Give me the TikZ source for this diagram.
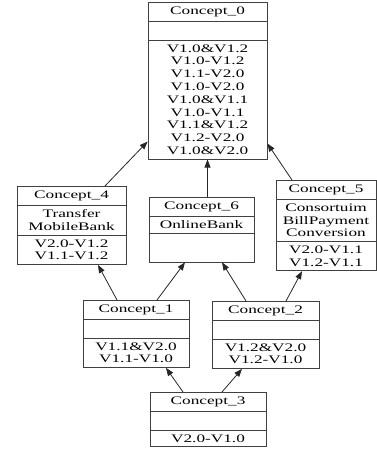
\documentclass[tikz,border=0pt]{standalone}
\usepackage{fontspec}
\setmainfont[FakeStretch=1.5]{Liberation Serif}
\usetikzlibrary{arrows.meta,shapes.multipart}

\begin{document}
\begin{tikzpicture}[
  x=1pt, y=-1pt,
  concept/.style={draw=black!75, line width=0.8pt, rectangle split, rectangle split parts=3,
    rectangle split empty part height=10pt, rectangle split empty part depth=0pt,
    font=\fontsize{11.5}{12.8}\selectfont, align=center, anchor=north,
    inner xsep=3pt, inner ysep=4pt},
  isa/.style={-{Triangle[length=8pt,width=6pt]}, line width=0.8pt, draw=black!85}
]
  \useasboundingbox (0,0) rectangle (376,454);

  % top concept
  \node[concept, minimum width=119pt] (c0) at (207.5,2) {Concept\_0
    \nodepart{two}
    \nodepart{three} V1.0\&V1.2\\V1.0-V1.2\\V1.1-V2.0\\V1.0-V2.0\\V1.0\&V1.1\\V1.0-V1.1\\V1.1\&V1.2\\V1.2-V2.0\\V1.0\&V2.0};

  % middle row
  \node[concept, minimum width=109pt] (c4) at (71.5,186) {Concept\_4
    \nodepart{two} Transfer\\MobileBank
    \nodepart{three} V2.0-V1.2\\V1.1-V1.2};
  \node[concept, minimum width=105pt, rectangle split empty part height=20pt] (c6) at (201.5,197) {Concept\_6
    \nodepart{two} OnlineBank
    \nodepart{three}};
  \node[concept, minimum width=100pt] (c5) at (326,180) {Concept\_5
    \nodepart{two} Consortuim\\BillPayment\\Conversion
    \nodepart{three} V2.0-V1.1\\V1.2-V1.1};

  % lower row
  \node[concept, minimum width=106pt] (c1) at (136,300) {Concept\_1
    \nodepart{two}
    \nodepart{three} V1.1\&V2.0\\V1.1-V1.0};
  \node[concept, minimum width=107pt] (c2) at (265.5,301) {Concept\_2
    \nodepart{two}
    \nodepart{three} V1.2\&V2.0\\V1.2-V1.0};

  % bottom concept
  \node[concept, minimum width=116pt] (c3) at (208,392) {Concept\_3
    \nodepart{two}
    \nodepart{three} V2.0-V1.0};

  % edges to super-concepts
  \draw[isa] ([xshift=33.5pt]c4.north) -- ([yshift=18pt]c0.south west);
  \draw[isa] (c6.north -| c0.south) -- (c0.south);
  \draw[isa] ([xshift=-34pt]c5.north) -- ([yshift=16pt]c0.south east);
  \draw[isa] ([xshift=-19pt]c1.north) -- ([xshift=26.5pt]c4.south);
  \draw[isa] ([xshift=21pt]c1.north) -- ([xshift=-16.5pt]c6.south);
  \draw[isa] ([xshift=-19.5pt]c2.north) -- ([xshift=20.5pt]c6.south);
  \draw[isa] ([xshift=20.5pt]c2.north) -- ([xshift=-24pt]c5.south);
  \draw[isa] ([xshift=-25pt]c3.north) -- ([xshift=30pt]c1.south);
  \draw[isa] ([xshift=14pt]c3.north) -- ([xshift=-23.5pt]c2.south);

\end{tikzpicture}
\end{document}
